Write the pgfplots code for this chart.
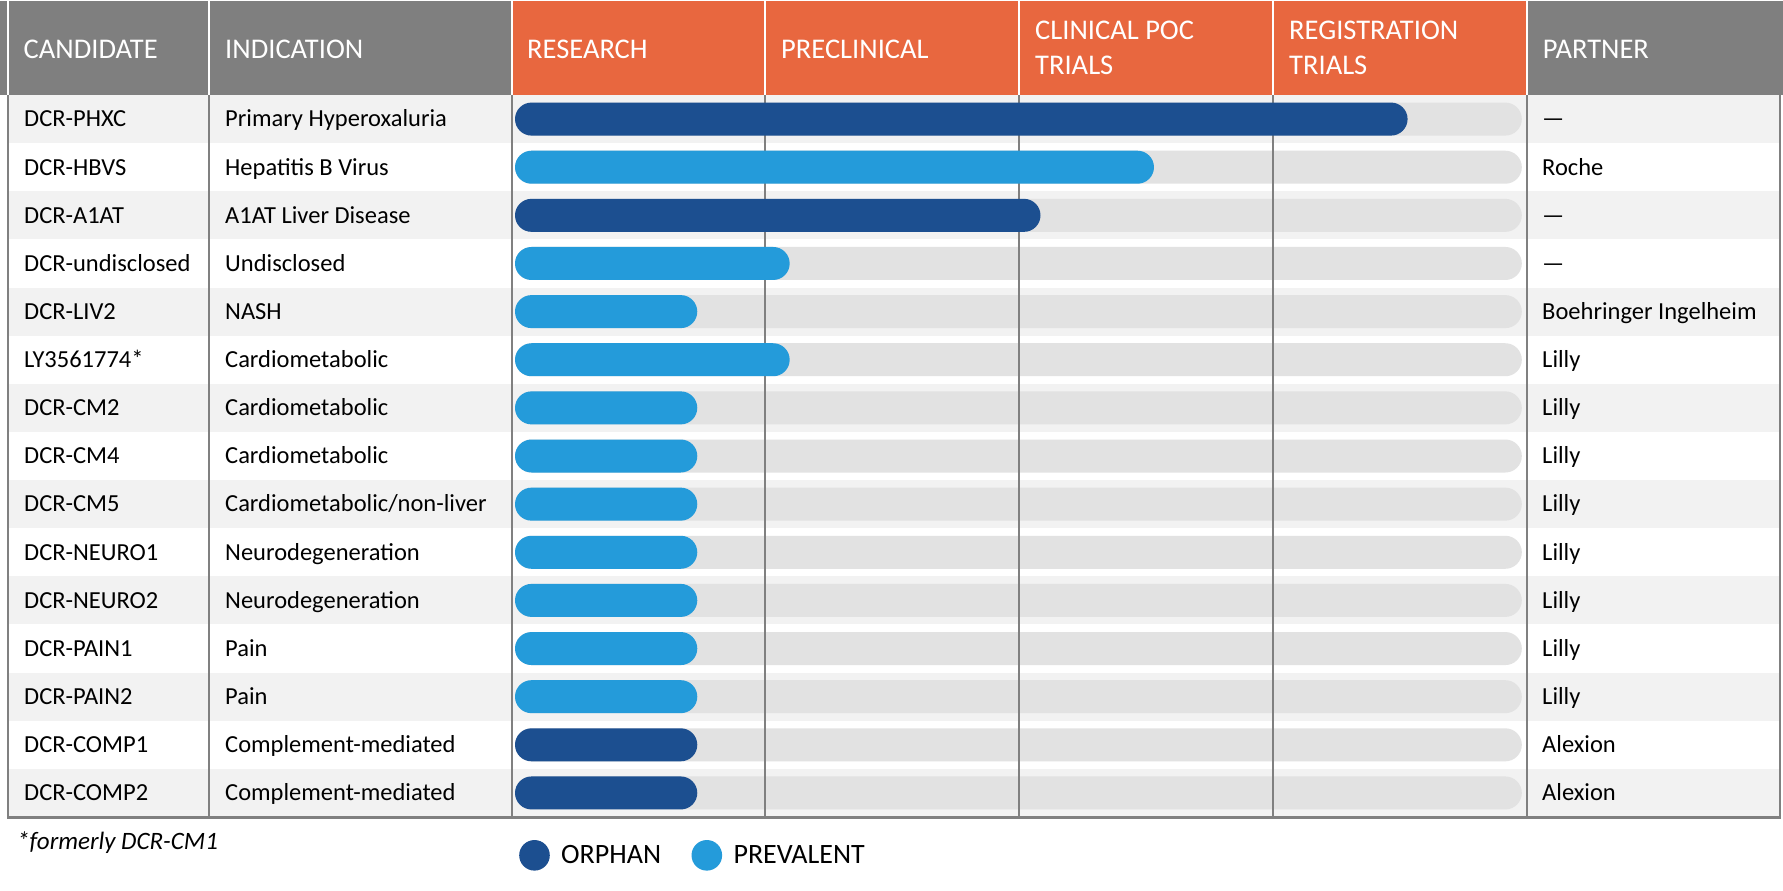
\documentclass[border=0pt]{standalone}
\usepackage{pgfplots}
\pgfplotsset{compat=1.18}
\usepackage{fontspec}
\setmainfont{Carlito}
\definecolor{hdrgray}{HTML}{7F7F7F}
\definecolor{hdrorange}{HTML}{E8673F}
\definecolor{rowgray}{HTML}{F2F2F2}
\definecolor{trackgray}{HTML}{E2E2E2}
\definecolor{linegray}{HTML}{808080}
\definecolor{darkblue}{HTML}{1C4F90}
\definecolor{lightblue}{HTML}{249BDA}
\newcommand{\bodyfont}{\fontsize{24.5}{29}\selectfont}
\newcommand{\hdrfont}{\fontsize{28.5}{34}\selectfont}
\newcommand{\rowy}[1]{94+(#1-0.5)*48.133+7.8}
\newcommand{\row}[4]{%
  \node[anchor=base west, inner sep=0pt, font=\bodyfont] at (24,{\rowy{#1}}) {#2};
  \node[anchor=base west, inner sep=0pt, font=\bodyfont] at (225,{\rowy{#1}}) {#3};
  \node[anchor=base west, inner sep=0pt, font=\bodyfont] at (1542,{\rowy{#1}}) {#4};
}
\begin{document}
\begin{tikzpicture}[x=1pt,y=-1pt]
% background
\fill[white] (0,0) rectangle (1783,890);
\foreach \i in {1,3,...,15} {
  \fill[rowgray] (8,{94+(\i-1)*48.133}) rectangle (1780,{94+\i*48.133});
}
% header
\fill[hdrgray] (0,0) rectangle (1783,94);
\fill[hdrorange] (511.5,0) rectangle (1527,94);
\foreach \x in {8,209,511.5,765.4,1019.25,1273.1,1527}
  \draw[white, line width=2pt] (\x,0) -- (\x,94);
% body frame lines
\foreach \x in {8,209,511.5,1527,1780}
  \draw[linegray, line width=2pt] (\x,94) -- (\x,817);
\draw[linegray, line width=2.5pt] (7,816.5) -- (1781,816.5);

\begin{axis}[
  at={(511.5pt,-816pt)}, anchor=south west,
  scale only axis, width=1015.5pt, height=722pt,
  xmin=-0.0138, xmax=3.9862, ymin=0.5, ymax=15.5, y dir=reverse,
  hide axis, clip=false,
  xbar, bar width=33pt, bar shift=0pt,
  legend columns=2,
  legend style={at={(axis description cs:0.00739,-0.05305)}, anchor=west,
    draw=none, fill=none, inner sep=0pt,
    nodes={inner sep=0pt, text=black},
    font=\fontsize{28}{32}\selectfont,
    /tikz/every odd column/.style={column sep=11.4pt},
    /tikz/every even column/.style={column sep=30.4pt}},
]
% pipeline track (full length for every candidate)
\addplot[fill=trackgray, draw=none, rounded corners=16.5pt, forget plot] coordinates {
  (3.966,1) (3.966,2) (3.966,3) (3.966,4) (3.966,5) (3.966,6) (3.966,7) (3.966,8)
  (3.966,9) (3.966,10) (3.966,11) (3.966,12) (3.966,13) (3.966,14) (3.966,15)};
% stage separators
\draw[linegray, line width=2pt] (axis cs:0.9863,0.5) -- (axis cs:0.9863,15.5);
\draw[linegray, line width=2pt] (axis cs:1.9863,0.5) -- (axis cs:1.9863,15.5);
\draw[linegray, line width=2pt] (axis cs:2.9863,0.5) -- (axis cs:2.9863,15.5);
% orphan
\addplot[fill=darkblue, draw=none, rounded corners=16.5pt,
  legend image code/.code={\fill[darkblue] (0pt,0pt) circle (15.3pt);}] coordinates {
  (3.516,1) (2.070,3) (0.718,14) (0.718,15)};
\addlegendentry{ORPHAN}
% prevalent
\addplot[fill=lightblue, draw=none, rounded corners=16.5pt,
  legend image code/.code={\fill[lightblue] (0pt,0pt) circle (15.3pt);}] coordinates {
  (2.517,2) (1.082,4) (0.718,5) (1.082,6) (0.718,7) (0.718,8) (0.718,9)
  (0.718,10) (0.718,11) (0.718,12) (0.718,13)};
\addlegendentry{PREVALENT}
\end{axis}

% header text
\begin{scope}[every node/.style={anchor=base west, inner sep=0pt, text=white, font=\hdrfont}]
\node at (23.5,57.3) {CANDIDATE};
\node at (225,57.3) {INDICATION};
\node at (527,57.3) {RESEARCH};
\node at (781,57.3) {PRECLINICAL};
\node at (1035,39) {CLINICAL POC};
\node at (1035,73.3) {TRIALS};
\node at (1289,39) {REGISTRATION};
\node at (1289,73.3) {TRIALS};
\node at (1542.7,57.3) {PARTNER};
\end{scope}

% rows
\row{1}{DCR-PHXC}{Primary Hyperoxaluria}{—}
\row{2}{DCR-HBVS}{Hepatitis B Virus}{Roche}
\row{3}{DCR-A1AT}{A1AT Liver Disease}{—}
\row{4}{DCR-undisclosed}{Undisclosed}{—}
\row{5}{DCR-LIV2}{NASH}{Boehringer Ingelheim}
\row{6}{LY3561774*}{Cardiometabolic}{Lilly}
\row{7}{DCR-CM2}{Cardiometabolic}{Lilly}
\row{8}{DCR-CM4}{Cardiometabolic}{Lilly}
\row{9}{DCR-CM5}{Cardiometabolic/non-liver}{Lilly}
\row{10}{DCR-NEURO1}{Neurodegeneration}{Lilly}
\row{11}{DCR-NEURO2}{Neurodegeneration}{Lilly}
\row{12}{DCR-PAIN1}{Pain}{Lilly}
\row{13}{DCR-PAIN2}{Pain}{Lilly}
\row{14}{DCR-COMP1}{Complement-mediated}{Alexion}
\row{15}{DCR-COMP2}{Complement-mediated}{Alexion}

% footnote
\node[anchor=base west, inner sep=0pt, font=\fontsize{25}{29}\selectfont\itshape] at (17,848) {*formerly DCR-CM1};
\end{tikzpicture}
\end{document}
